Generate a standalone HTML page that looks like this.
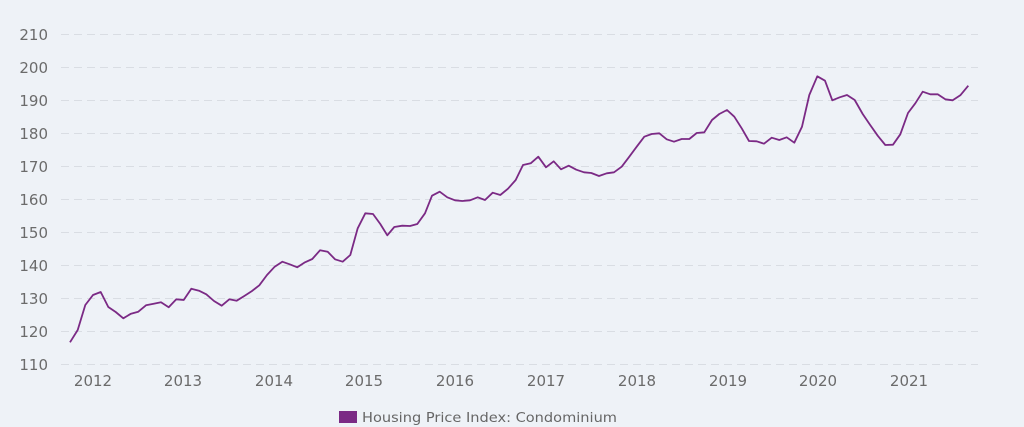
<!DOCTYPE html>
<html><head><meta charset="utf-8"><style>
html,body{margin:0;padding:0;background:#eef2f7;}
svg{display:block;font-family:"DejaVu Sans","Liberation Sans",sans-serif;}
</style></head><body>
<svg width="1024" height="427" viewBox="0 0 1024 427">
<rect width="1024" height="427" fill="#eef2f7"/>
<g stroke="#d9dde3" stroke-width="1" stroke-dasharray="8,5">
<line x1="61" y1="34.5" x2="978" y2="34.5"/>
<line x1="61" y1="67.5" x2="978" y2="67.5"/>
<line x1="61" y1="100.5" x2="978" y2="100.5"/>
<line x1="61" y1="133.5" x2="978" y2="133.5"/>
<line x1="61" y1="166.5" x2="978" y2="166.5"/>
<line x1="61" y1="199.5" x2="978" y2="199.5"/>
<line x1="61" y1="232.5" x2="978" y2="232.5"/>
<line x1="61" y1="265.5" x2="978" y2="265.5"/>
<line x1="61" y1="298.5" x2="978" y2="298.5"/>
<line x1="61" y1="331.5" x2="978" y2="331.5"/>
<line x1="61" y1="364.5" x2="978" y2="364.5"/>
</g>
<g fill="#6b6b6b" font-size="15" text-anchor="end">
<text x="48" y="40">210</text>
<text x="48" y="73">200</text>
<text x="48" y="106">190</text>
<text x="48" y="139">180</text>
<text x="48" y="172">170</text>
<text x="48" y="205">160</text>
<text x="48" y="238">150</text>
<text x="48" y="271">140</text>
<text x="48" y="304">130</text>
<text x="48" y="337">120</text>
<text x="48" y="370">110</text>
</g>
<g fill="#6b6b6b" font-size="15" text-anchor="middle">
<text x="93" y="386">2012</text>
<text x="183" y="386">2013</text>
<text x="274" y="386">2014</text>
<text x="364" y="386">2015</text>
<text x="455" y="386">2016</text>
<text x="546" y="386">2017</text>
<text x="637" y="386">2018</text>
<text x="728" y="386">2019</text>
<text x="818" y="386">2020</text>
<text x="909" y="386">2021</text>
</g>
<polyline fill="none" stroke="#7b2a85" stroke-width="1.8" stroke-linejoin="round" points="70,342.3 77.7,330 85.3,305 93,295 100.7,292 108.3,307 115.7,312 123.3,318.3 131,313.7 138.3,311.7 146,305.3 153.7,303.7 161,302.3 168.7,307.3 176.3,299.3 183.7,300 191.3,288.7 199,290.7 206.3,294.3 214,301 221.7,305.7 229.3,299.3 236.7,300.7 244.3,296 252,291 259.3,285.3 267,275 274.7,266.7 282.3,261.7 289.7,264.3 297.3,267.3 305,262.3 312.3,259 320,250.3 327.7,251.7 335,259.3 342.7,261.7 350.3,255 357.7,228.3 365.3,213.3 373,214 380.3,224 387.3,235.3 394.3,227 402.3,225.7 410,226 417.3,224 425,213.3 432,195.7 439.7,191.7 447.3,197.3 455,200.3 462.3,201 470,200.3 477.7,197.3 485,200 492.7,192.7 500.3,195 508,188.7 515.7,180 523,165 530.7,163.3 538.3,156.7 546,167.3 553.7,161.3 561,169.3 568.7,165.7 576.3,169.7 584,172.3 591.3,173 599,176 606.7,173.3 614,172.3 621.7,166.7 629.3,156.7 636.7,146.7 644.3,136.7 651.7,134 659.3,133.3 666.7,139.3 674,141.7 681.7,139 689.3,139 696.7,133 704.3,132.3 712,120 719.3,114 727,110 734.3,116.7 741.7,128.3 749,141 756.7,141.3 764,143.7 771.7,137.7 779.3,140 786.7,137.3 794.3,142.7 802,126.7 809.3,95 817.3,76.3 825,80.7 832.3,100.3 839.7,97.3 847,95 854.7,100 862.7,114 870,124.7 877.7,135.7 885.3,145 893,144.7 900.3,134.3 908,113 915.3,103.3 922.7,91.7 930.3,94.3 937.7,94.3 945.3,99.3 952.7,100.3 960.3,95.3 968.3,85.7"/>
<rect x="339" y="411" width="18" height="12" fill="#7b2a85"/>
<text x="362" y="422" font-size="13.5" fill="#666" textLength="255" lengthAdjust="spacingAndGlyphs">Housing Price Index: Condominium</text>
</svg>
</body></html>
